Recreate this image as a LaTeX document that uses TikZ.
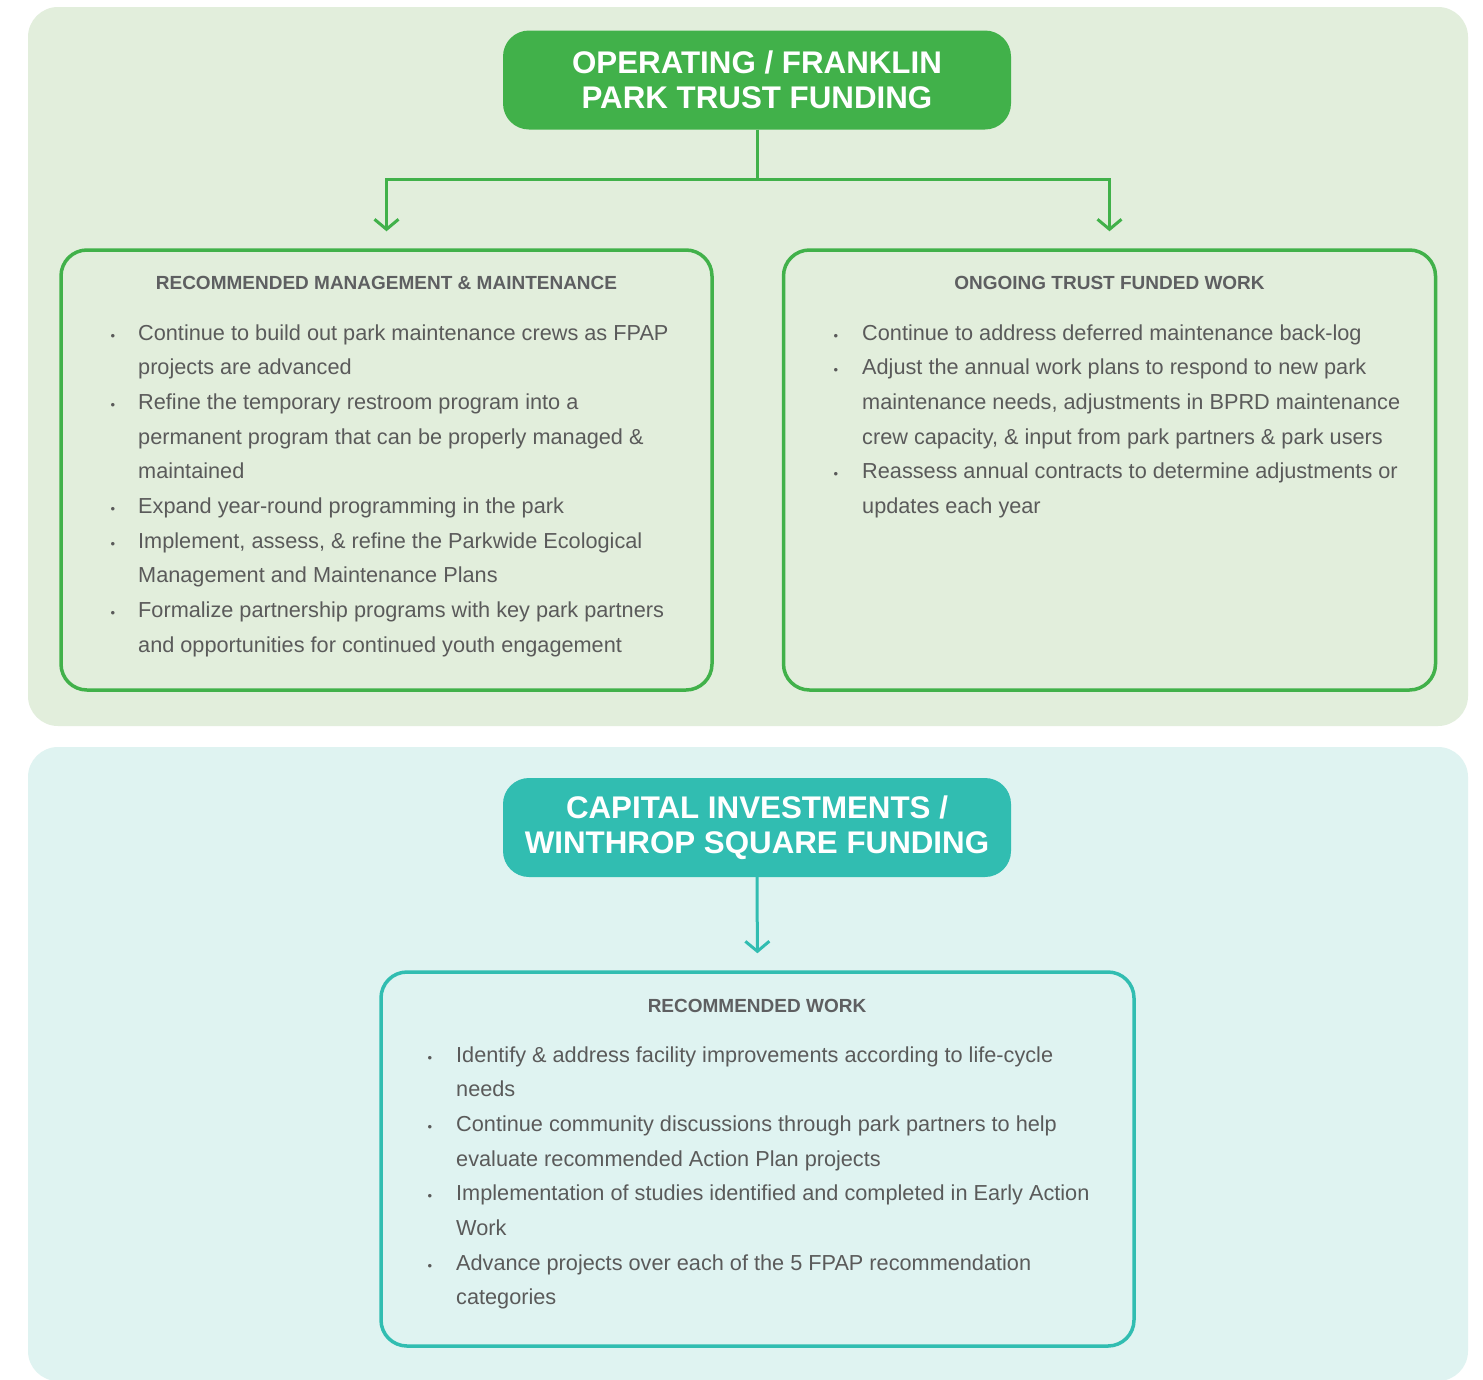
\documentclass[tikz,border=0pt]{standalone}
\usepackage{fontspec}
\setmainfont{Liberation Sans}
\usetikzlibrary{arrows.meta}
\definecolor{pgreen}{HTML}{E2EEDC}
\definecolor{pteal}{HTML}{DFF3F1}
\definecolor{dgreen}{HTML}{41B14A}
\definecolor{dteal}{HTML}{31BDB1}
\definecolor{txtgray}{HTML}{5A5A5A}
\definecolor{hdgray}{HTML}{5E5F61}
\begin{document}
\begin{tikzpicture}[x=1pt,y=-1pt,
 panel/.style={rounded corners=30pt},
 header/.style={rounded corners=26pt, minimum width=508pt, minimum height=99pt, inner sep=0pt, text=white, align=center, font=\fontsize{31.3}{35}\selectfont\bfseries},
 card/.style={draw, line width=3.5pt, rounded corners=26pt, inner sep=0pt},
 cardtitle/.style={anchor=base, inner sep=0pt, text=hdgray, font=\fontsize{19}{22}\selectfont\bfseries},
 bodyline/.style={anchor=base west, inner sep=0pt, text=txtgray, font=\fontsize{21.7}{25}\selectfont},
 bul/.style={anchor=base, inner sep=0pt, text=txtgray, font=\fontsize{13}{15}\selectfont},
 conn/.style={line width=3pt, -{Straight Barb[length=10pt,width=24pt]}, shorten >=17pt},
]
\useasboundingbox (0,0) rectangle (1483,1379);
\fill[white] (0,0) rectangle (1483,1379);
% panels
\fill[pgreen, panel] (28,7) rectangle (1468,726);
\fill[pteal, panel] (28,747) rectangle (1468,1381);

% headers
\node[header, fill=dgreen] (h1) at (757,80) {OPERATING / FRANKLIN\\PARK TRUST FUNDING};
\node[header, fill=dteal] (h2) at (757,827.5) {CAPITAL INVESTMENTS /\\WINTHROP SQUARE FUNDING};

% cards
\node[card, draw=dgreen, minimum width=651pt, minimum height=440pt] (cL) at (386.5,470) {};
\node[card, draw=dgreen, minimum width=652pt, minimum height=440pt] (cR) at (1109.5,470) {};
\node[card, draw=dteal, minimum width=753pt, minimum height=374pt] (cB) at (757.5,1159) {};

% connectors
\draw[conn, dgreen] (h1.south) -- ++(0,50) -| (cL.north);
\draw[conn, dgreen] (h1.south) -- ++(0,50) -| (cR.north);
\draw[conn, dteal] (h2.south) -- (cB.north);

% card titles
\node[cardtitle] (tL) at (386.5,289) {RECOMMENDED MANAGEMENT \& MAINTENANCE};
\node[cardtitle] (tR) at (1109.5,289) {ONGOING TRUST FUNDED WORK};
\node[cardtitle] (tB) at (757,1012) {RECOMMENDED WORK};

% left card body
\foreach \t [count=\i from 0] in {
 {Continue to build out park maintenance crews as FPAP},
 {projects are advanced},
 {Refine the temporary restroom program into a},
 {permanent program that can be properly managed \&},
 {maintained},
 {Expand year-round programming in the park},
 {Implement, assess, \& refine the Parkwide Ecological},
 {Management and Maintenance Plans},
 {Formalize partnership programs with key park partners},
 {and opportunities for continued youth engagement}}
 \node[bodyline] (L\i) at (138,340+34.7*\i) {\t};
\foreach \k in {0,2,5,6,8}
 \node[bul] (Lb\k) at (113,340+34.7*\k) {•};

% right card body
\foreach \t [count=\i from 0] in {
 {Continue to address deferred maintenance back-log},
 {Adjust the annual work plans to respond to new park},
 {maintenance needs, adjustments in BPRD maintenance},
 {crew capacity, \& input from park partners \& park users},
 {Reassess annual contracts to determine adjustments or},
 {updates each year}}
 \node[bodyline] (R\i) at (862,340+34.7*\i) {\t};
\foreach \k in {0,1,4}
 \node[bul] (Rb\k) at (836,340+34.7*\k) {•};

% bottom card body
\foreach \t [count=\i from 0] in {
 {Identify \& address facility improvements according to life-cycle},
 {needs},
 {Continue community discussions through park partners to help},
 {evaluate recommended Action Plan projects},
 {Implementation of studies identified and completed in Early Action},
 {Work},
 {Advance projects over each of the 5 FPAP recommendation},
 {categories}}
 \node[bodyline] (B\i) at (456,1062+34.7*\i) {\t};
\foreach \k in {0,2,4,6}
 \node[bul] (Bb\k) at (430,1062+34.7*\k) {•};
\end{tikzpicture}
\end{document}
